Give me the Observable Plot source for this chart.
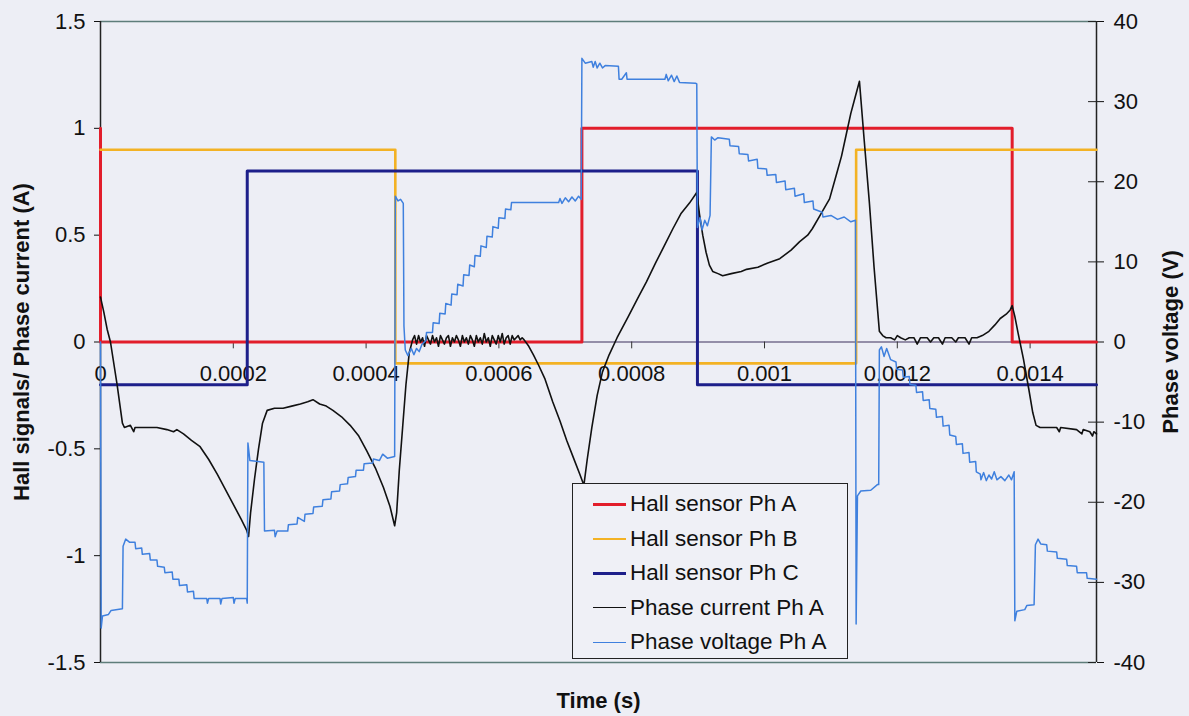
<!DOCTYPE html>
<html>
<head>
<meta charset="utf-8">
<script src="https://cdn.jsdelivr.net/npm/d3@7"></script>
<script src="https://cdn.jsdelivr.net/npm/@observablehq/plot@0.6"></script>
<style>
  html, body { margin: 0; padding: 0; background: #edeef5; }
  #wrap { position: relative; width: 1189px; height: 716px; font-family: "Liberation Sans", Arial, sans-serif; }
  #legend { position: absolute; left: 572px; top: 483px; width: 274px; height: 174px;
            border: 1.5px solid #222; background: #eff0f6; }
  .row { position: absolute; left: 0; height: 30px; display: flex; align-items: center; font-size: 22.5px; color: #111; white-space: nowrap; }
  .sw { display: inline-block; width: 33px; margin-left: 20px; margin-right: 4px; }
</style>
</head>
<body>
<div id="wrap"></div>
<script>
// ---- Data (time in microseconds) ----
const xTicks = [0, 0.0002, 0.0004, 0.0006, 0.0008, 0.001, 0.0012, 0.0014];
const xTickLabels = ["0", "0.0002", "0.0004", "0.0006", "0.0008", "0.001", "0.0012", "0.0014"];
const leftTicks = [-1.5, -1, -0.5, 0, 0.5, 1, 1.5];
const rightTicks = [-40, -30, -20, -10, 0, 10, 20, 30, 40];

const seriesNames = ["Hall sensor Ph A", "Hall sensor Ph B", "Hall sensor Ph C", "Phase current Ph A", "Phase voltage Ph A"];
const seriesColors = ["#e21d2b", "#f3b224", "#1d1f8a", "#111111", "#3f80de"];

const hallAT = [0, 0, 725, 725, 1373, 1373, 1500];
const hallAV = [1, 0, 0, 1, 1, 0, 0];
const hallBT = [0, 444, 444, 1138, 1138, 1500];
const hallBV = [0.9, 0.9, -0.1, -0.1, 0.9, 0.9];
const hallCT = [0, 221, 221, 899, 899, 1500];
const hallCV = [-0.2, -0.2, 0.8, 0.8, -0.2, -0.2];

const curT = [0,5,10,15,25,33,36,45,50,52,70,85,100,110,115,125,137,150,163,176,188,200,212,220,223,226,232,238,244,251,262,275,288,301,312,320,330,340,350,363,376,389,401,414,426,436,443,446,450,455,460,465,
  470,473,476,479,482,485,488,491,494,497,500,503,506,509,512,515,518,521,524,527,530,533,536,539,542,545,548,551,554,557,560,563,566,569,572,575,578,581,584,587,590,593,596,599,602,605,608,611,614,617,620,623,626,629,632,635,638,
  645,652,660,669,681,692,702,712,722,728,733,740,748,756,766,778,795,810,822,836,849,862,874,887,898,902,907,912,917,922,930,937,950,965,973,990,1005,1023,1040,1053,1065,1072,1085,1098,1108,1116,1123,1130,1136,1143,1150,1158,1165,1173,1178,1183,
  1190,1196,1200,1205,1212,1218,1225,1230,1235,1245,1250,1255,1262,1268,1272,1282,1288,1292,1302,1308,1312,1320,
  1328,1338,1347,1355,1364,1370,1373,1377,1382,1390,1398,1404,1409,1415,1440,1444,1446,1470,1478,1480,1490,1494,1496,1500];
const curA = [0.21,0.14,0.06,0.0,-0.2,-0.38,-0.40,-0.39,-0.42,-0.40,-0.40,-0.40,-0.41,-0.42,-0.41,-0.43,-0.46,-0.49,-0.55,-0.62,-0.69,-0.76,-0.83,-0.88,-0.91,-0.80,-0.64,-0.50,-0.38,-0.32,-0.31,-0.31,-0.30,-0.29,-0.28,-0.27,-0.29,-0.30,-0.32,-0.35,-0.39,-0.44,-0.51,-0.59,-0.68,-0.77,-0.86,-0.80,-0.60,-0.40,-0.20,-0.05,
  0.01,0.03,-0.01,0.03,0.00,0.02,-0.02,0.03,0.01,-0.01,0.03,0.00,0.02,-0.02,0.03,0.01,-0.01,0.02,0.03,-0.02,0.02,0.00,0.03,0.01,-0.02,0.03,0.00,0.02,-0.01,0.03,0.01,-0.02,0.03,0.00,0.02,-0.01,0.04,0.00,0.02,-0.02,0.03,0.01,-0.01,0.03,0.00,0.04,-0.01,0.02,0.03,-0.01,0.03,0.01,0.02,0.03,0.01,0.02,0.01,
  -0.02,-0.06,-0.11,-0.17,-0.28,-0.37,-0.46,-0.54,-0.62,-0.67,-0.55,-0.40,-0.25,-0.14,-0.06,0.02,0.12,0.21,0.28,0.37,0.45,0.53,0.60,0.65,0.70,0.60,0.50,0.42,0.36,0.33,0.32,0.31,0.32,0.33,0.34,0.35,0.37,0.39,0.43,0.47,0.50,0.53,0.60,0.67,0.78,0.87,0.97,1.07,1.14,1.22,0.95,0.65,0.35,0.05,0.03,0.02,
  0.02,0.01,0.03,0.02,0.01,0.02,0.02,-0.01,0.02,0.02,0.00,0.02,0.02,-0.01,0.02,0.02,0.00,0.02,0.02,-0.01,0.02,0.02,
  0.03,0.05,0.08,0.11,0.13,0.15,0.17,0.12,0.04,-0.08,-0.22,-0.33,-0.39,-0.40,-0.40,-0.42,-0.40,-0.41,-0.43,-0.41,-0.42,-0.44,-0.42,-0.43];

const voltT = [0,1,3,12,16,33,34,38,44,52,53,62,63,74,75,85,86,96,97,108,109,118,119,130,131,140,141,160,161,163,180,181,183,200,201,203,220,221,222,225,246,247,262,263,266,282,283,296,297,307,308,320,321,334,335,347,348,360,361,372,373,384,385,396,397,410,411,420,425,432,443,
  444,448,452,456,457,459,463,468,472,476,480,484,490,491,500,501,510,511,519,520,528,529,537,538,546,547,555,556,563,564,572,573,581,582,590,591,599,600,609,610,618,619,690,692,695,700,705,710,715,720,724,
  725,730,740,742,745,748,752,756,760,780,781,785,792,793,850,852,855,860,864,868,872,896,898,899,903,906,910,914,918,920,925,930,947,948,961,962,975,976,989,990,1003,1004,1017,1018,1031,1032,1045,1046,1059,1060,1073,1074,1087,1088,1100,1110,1120,1130,1137,
  1138,1140,1145,1160,1170,1172,1173,1176,1180,1184,1190,1198,1199,1208,1209,1218,1219,1228,1229,1238,1239,1248,1249,1258,1259,1268,1269,1278,1279,1288,1289,1298,1299,1308,1309,1318,1319,1325,1326,1330,1334,1338,1342,1346,1350,1356,1362,1368,1372,1376,
  1377,1380,1392,1395,1406,1408,1412,1416,1425,1426,1440,1441,1455,1456,1470,1471,1485,1486,1500];
const voltV = [0,-35.7,-34.2,-34,-33.5,-33.3,-25.5,-24.6,-25,-25,-25.8,-25.7,-26.5,-26.4,-27.2,-27.2,-28.0,-28.1,-28.8,-28.7,-29.6,-29.6,-30.4,-30.3,-31.2,-31.1,-32,-32,-32.6,-32,-32,-32.7,-32,-31.9,-32.6,-32,-32,-32.6,-12.6,-14.8,-15,-23.6,-23.5,-24.3,-23.6,-23.6,-22.8,-22.7,-21.9,-22.4,-21.5,-21.4,-20.6,-20.5,-19.7,-19.6,-18.7,-18.6,-17.8,-17.7,-16.9,-16.8,-16,-16,-15.2,-15.1,-14.6,-14.8,-14,-14.5,-14.3,
  18.2,17.6,17.8,17.3,2,-1,-1.7,-0.8,-1.6,-0.8,-1.2,-0.3,0.2,1.2,1.2,2.4,2.3,3.6,3.5,4.8,4.6,6.0,5.9,7.2,7.0,8.4,8.3,9.6,9.4,10.8,10.7,12.0,11.8,13.2,13.1,14.4,14.2,15.5,15.4,16.6,16.5,17.4,17.4,17.9,17.3,18.0,17.5,18.1,17.6,18.2,17.8,
  35.4,34.8,35.0,34.3,35.0,34.2,34.8,34.2,34.5,34.4,32.8,32.8,33.6,32.8,32.8,33.4,32.6,33.3,32.5,33.2,32.4,32.3,32.2,14.3,15.5,14.0,15.2,14.5,15.8,25.6,25.2,25.5,25.3,24.5,24.4,23.5,23.4,22.6,22.8,21.7,21.6,20.8,20.9,19.9,20.1,19.0,19.2,18.2,18.5,17.4,17.6,16.6,16.2,15.6,15.8,15.3,15.6,15.0,15.2,
  -35.2,-19.2,-18.6,-18.5,-17.8,-17.8,-1,-0.6,-1.8,-0.8,-2.2,-2.5,-3.4,-3.5,-4.4,-4.3,-5.3,-5.4,-6.3,-6.2,-7.3,-7.2,-8.3,-8.4,-9.4,-9.3,-10.5,-10.4,-11.6,-11.8,-12.8,-12.7,-13.9,-13.8,-15.0,-14.9,-16.2,-16.5,-17.2,-16.3,-17.3,-16.6,-17.1,-16.2,-17.2,-16.8,-17.3,-16.6,-17.2,-16.2,
  -34.8,-33.6,-33.4,-32.9,-32.8,-25.3,-24.6,-25.2,-25.3,-26.1,-26.2,-27.0,-27.1,-27.9,-28.0,-28.8,-28.8,-29.5,-29.6];

// ---- Build tables ----
const zip = (T, V) => T.map((t, i) => ({t: t * 1e-6, v: V[i]}));
const hallA = zip(hallAT, hallAV);
const hallB = zip(hallBT, hallBV);
const hallC = zip(hallCT, hallCV);
const current = zip(curT, curA);
const voltage = zip(voltT, voltV);
const k = 1.5 / 40; // voltage -> left axis units
const xMax = 0.0015;

const chart = Plot.plot({
  width: 1189,
  height: 716,
  marginLeft: 100,
  marginRight: 93,
  marginTop: 21,
  marginBottom: 54,
  x: {domain: [0, xMax], axis: null},
  y: {domain: [-1.5, 1.5]},
  style: {background: "transparent", fontFamily: "'Liberation Sans', Arial, sans-serif", fontSize: "22px", color: "#111"},
  marks: [
    Plot.ruleY([-1.5, 1.5], {stroke: "#5e7d7a", strokeWidth: 1.5}),
    Plot.axisY(leftTicks, {anchor: "left", tickSize: 6, tickPadding: 9, tickFormat: d => String(d), label: null, fontSize: 22}),
    Plot.axisY(rightTicks.map(v => v * k), {anchor: "right", tickSize: 7, tickPadding: 10, tickFormat: d => String(Math.round(d / k)), label: null, fontSize: 22}),
    Plot.ruleY(rightTicks.map(v => v * k), {x1: xMax - 0.000012, x2: xMax, stroke: "#222"}),
    Plot.ruleX([0], {stroke: "#222", strokeWidth: 1.5}),
    Plot.ruleX([xMax], {stroke: "#222", strokeWidth: 1.5}),
    Plot.ruleY([0], {stroke: "#3d2f5c", strokeWidth: 1.2}),
    Plot.ruleX(xTicks, {y1: 0, y2: -0.032, stroke: "#333"}),
    Plot.text(xTicks, {x: d => d, y: 0, dy: 32, text: (d, i) => xTickLabels[i], fontSize: 22}),
    Plot.line(hallA, {x: "t", y: "v", stroke: seriesColors[0], strokeWidth: 3}),
    Plot.line(hallB, {x: "t", y: "v", stroke: seriesColors[1], strokeWidth: 2.6}),
    Plot.line(hallC, {x: "t", y: "v", stroke: seriesColors[2], strokeWidth: 3}),
    Plot.line(current, {x: "t", y: "v", stroke: seriesColors[3], strokeWidth: 1.6}),
    Plot.line(voltage, {x: "t", y: d => d.v * k, stroke: seriesColors[4], strokeWidth: 1.5}),
    Plot.text(["Hall signals/ Phase current (A)"], {frameAnchor: "left", dx: -79, rotate: -90, textAnchor: "middle", lineAnchor: "middle", text: d => d, fontWeight: "bold", fontSize: 22}),
    Plot.text(["Phase voltage (V)"], {frameAnchor: "right", dx: 74, rotate: -90, textAnchor: "middle", lineAnchor: "middle", text: d => d, fontWeight: "bold", fontSize: 22}),
    Plot.text(["Time (s)"], {frameAnchor: "bottom", dy: 38, textAnchor: "middle", lineAnchor: "middle", text: d => d, fontWeight: "bold", fontSize: 22})
  ]
});

const wrap = document.getElementById("wrap");
wrap.appendChild(chart);

// Legend
const legend = document.createElement("div");
legend.id = "legend";
const widths = [3.5, 2.5, 3.5, 1.8, 1.8];
seriesNames.forEach((name, i) => {
  const row = document.createElement("div");
  row.className = "row";
  row.style.top = (5 + i * 34.5) + "px";
  const sw = document.createElement("span");
  sw.className = "sw";
  sw.style.borderTop = widths[i] + "px solid " + seriesColors[i];
  row.appendChild(sw);
  const tx = document.createElement("span");
  tx.textContent = name;
  row.appendChild(tx);
  legend.appendChild(row);
});
wrap.appendChild(legend);
</script>
</body>
</html>
